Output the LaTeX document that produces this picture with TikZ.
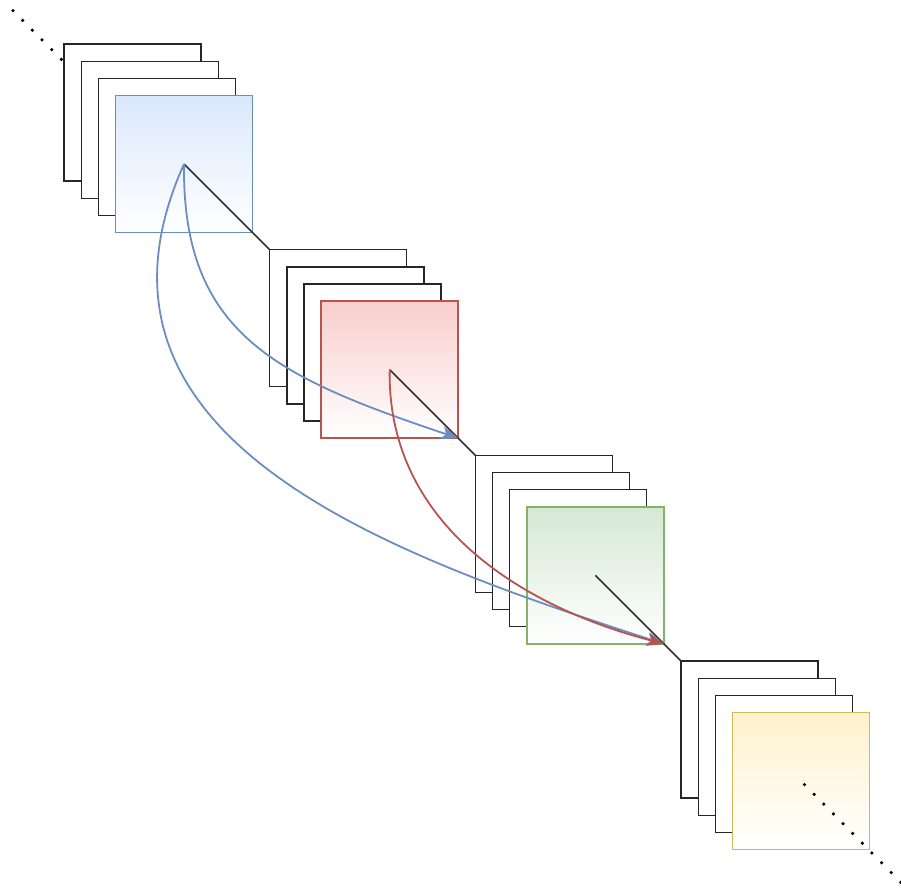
\documentclass[tikz,border=0pt]{standalone}
\usetikzlibrary{arrows.meta}

\definecolor{blueFill}{HTML}{DAE8FC}
\definecolor{blueLine}{HTML}{6C8EBF}
\definecolor{redFill}{HTML}{F8CECC}
\definecolor{redLine}{HTML}{B85450}
\definecolor{greenFill}{HTML}{D5E8D4}
\definecolor{greenLine}{HTML}{82B366}
\definecolor{yellowFill}{HTML}{FFF2CC}
\definecolor{yellowLine}{HTML}{D6B656}
\definecolor{linkGray}{HTML}{333333}

\begin{document}
\begin{tikzpicture}[x=1pt,y=-1pt,
  sheet/.style={draw=black!85, line width=1.4pt, fill=white, minimum size=137pt,
    inner sep=0pt, outer sep=0pt, anchor=north west},
  link/.style={draw=linkGray, line width=1.6pt},
  dotline/.style={line width=3.6pt, line cap=round, dash pattern=on 0pt off 13.72pt},
  arc/.style={line width=1.8pt, -{Stealth[length=17pt,width=13pt,inset=4.5pt]}}
]
\useasboundingbox (0,0) rectangle (901,891);

% leading dotted trail, partly hidden behind the first stack
\coordinate (trailStart) at (13,10.7);
\coordinate (trailEnd) at (66,64);
\draw[dotline] (trailStart) -- (trailEnd);

% four stacks of sheets, the front one coloured
\foreach \k/\fc/\dc in {1/blueFill/blueLine, 2/redFill/redLine,
                        3/greenFill/greenLine, 4/yellowFill/yellowLine} {
  \pgfmathsetmacro\bx{64+(\k-1)*205.67}
  \pgfmathsetmacro\by{44+(\k-1)*205.67}
  \node[sheet] (s\k a) at (\bx,\by) {};
  \node[sheet] (s\k b) at (\bx+17.2,\by+17.2) {};
  \node[sheet] (s\k c) at (\bx+34.4,\by+34.4) {};
  \node[sheet, draw=\dc, top color=\fc, bottom color=white] (s\k d) at (\bx+51.5,\by+51.5) {};
}

% direct links from each front sheet to the next stack
\draw[link] (s1d.center) -- (s2a.north west);
\draw[link] (s2d.center) -- (s3a.north west);
\draw[link] (s3d.center) -- (s4a.north west);

% skip connections
\draw[arc, blueLine] (s1d.center) .. controls (182,334) and (276,377) .. (s2d.south east);
\draw[arc, blueLine] (s1d.center) .. controls (60,440) and (390,555) .. (s3d.south east);
\draw[arc, redLine] (s2d.center) .. controls (387,520) and (515,605) .. (s3d.south east);

% trailing dotted line
\coordinate (tailEnd) at (902,883.5);
\draw[dotline, dash phase=8.72pt] (s4d.center) -- (tailEnd);
\end{tikzpicture}
\end{document}
